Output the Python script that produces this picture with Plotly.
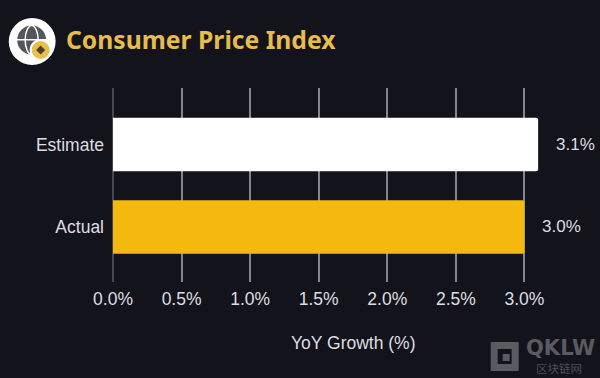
import plotly.graph_objects as go

categories = ["Actual", "Estimate"]
values = [3.0, 3.1]
labels = ["3.0%", "3.1%"]
colors = ["#f3b90f", "#ffffff"]
tick_vals = [0, 0.5, 1.0, 1.5, 2.0, 2.5, 3.0, 3.5]
tick_text = ["0.0%", "0.5%", "1.0%", "1.5%", "2.0%", "2.5%", "3.0%", ""]

BG = "#12131b"
W, H = 600, 378
L, R, T, B = 112.5, 6.5, 88, 96
PW, PH = W - L - R, H - T - B
FONT = "Liberation Sans, Arial, sans-serif"
TXT = "#dedee0"

fig = go.Figure(go.Bar(
    x=values, y=categories, orientation="h", width=0.65,
    marker=dict(color=colors, line=dict(width=0), cornerradius=2),
    hoverinfo="skip",
))

def px(x): return (x - L) / PW
def py(y): return (H - B - y) / PH

def ellipse(cx, cy, rx, ry, **kw):
    return dict(type="circle", xref="paper", yref="paper", layer="above",
                x0=px(cx - rx), x1=px(cx + rx), y0=py(cy + ry), y1=py(cy - ry),
                line=kw.pop("line", dict(width=0)), **kw)

def circle(cx, cy, r, **kw):
    return ellipse(cx, cy, r, r, **kw)

def rect(x0, y0, x1, y1, **kw):
    return dict(type="rect", xref="paper", yref="paper", layer="above",
                x0=px(x0), x1=px(x1), y0=py(y1), y1=py(y0),
                line=kw.pop("line", dict(width=0)), **kw)

def poly(points, color):
    path = "M " + " L ".join(f"{px(x)},{py(y)}" for x, y in points) + " Z"
    return dict(type="path", xref="paper", yref="paper", layer="above", path=path,
                fillcolor=color, line=dict(width=0))

GLOBE = "#55565c"
WM = "#5a5b60"
shapes = [
    circle(31.5, 41.5, 23.5, fillcolor="#ffffff"),
    circle(31, 40, 14.5, fillcolor=GLOBE),
    ellipse(31, 40, 6.5, 14.5, fillcolor="rgba(0,0,0,0)", line=dict(color="#ffffff", width=1.5)),
    rect(16, 39, 46, 40.5, fillcolor="#ffffff"),
    circle(40, 50, 11, fillcolor="#ffffff"),
    circle(40, 50, 9, fillcolor="#e9bf4b"),
    poly([(40, 45.5), (44.5, 50), (40, 54.5), (35.5, 50)], "#4a4026"),
    # watermark
    rect(494.5, 345.5, 515.5, 367.5, fillcolor="rgba(0,0,0,0)", line=dict(color=WM, width=7)),
    rect(503, 354, 510, 361, fillcolor=WM),
]

annotations = [
    dict(x=v, y=c, xref="x", yref="y", text=t, showarrow=False, xanchor="left",
         xshift=16, font=dict(family=FONT, size=17, color=TXT))
    for v, c, t in zip(values, categories, labels)
]
annotations += [
    dict(x=px(63.5), y=py(39), xref="paper", yref="paper", text="<b>Consumer Price Index</b>",
         showarrow=False, xanchor="left", yanchor="middle",
         font=dict(family="Noto Sans, sans-serif", size=24.7, color="#e8bc4a")),
    dict(x=px(353), y=py(343), xref="paper", yref="paper", text="YoY Growth (%)",
         showarrow=False, xanchor="center", yanchor="middle",
         font=dict(family=FONT, size=17.5, color=TXT)),
    dict(x=px(561), y=py(347.5), xref="paper", yref="paper", text="<b>QKLW</b>",
         showarrow=False, xanchor="center", yanchor="middle",
         font=dict(family="DejaVu Sans, sans-serif", size=21, color=WM)),
    dict(x=px(559), y=py(368), xref="paper", yref="paper", text="区块链网",
         showarrow=False, xanchor="center", yanchor="middle",
         font=dict(family="Noto Sans CJK SC, sans-serif", size=11.5, color="#4d4e54")),
]

fig.update_layout(
    width=W, height=H, autosize=False,
    paper_bgcolor=BG, plot_bgcolor=BG, showlegend=False,
    margin=dict(l=L, r=R, t=T, b=B),
    shapes=shapes, annotations=annotations,
    font=dict(family=FONT, size=17.5, color=TXT),
    xaxis=dict(range=[0, 3.5], tickvals=tick_vals, ticktext=tick_text,
               showgrid=True, gridcolor="#85868c", gridwidth=1.5,
               zeroline=True, zerolinecolor="#47484e", zerolinewidth=1.5,
               showline=False, ticks="", tickfont=dict(size=17.5, color=TXT),
               ticklabelstandoff=4),
    yaxis=dict(type="category", categoryorder="array", categoryarray=categories,
               range=[-0.667, 1.685], showgrid=False, zeroline=False, showline=False,
               ticks="", tickfont=dict(size=17.5, color=TXT), ticklabelstandoff=8),
)

fig.write_html("out.html", config=dict(displayModeBar=False),
               post_script="document.body.style.margin='0';document.body.style.background='#12131b';")
